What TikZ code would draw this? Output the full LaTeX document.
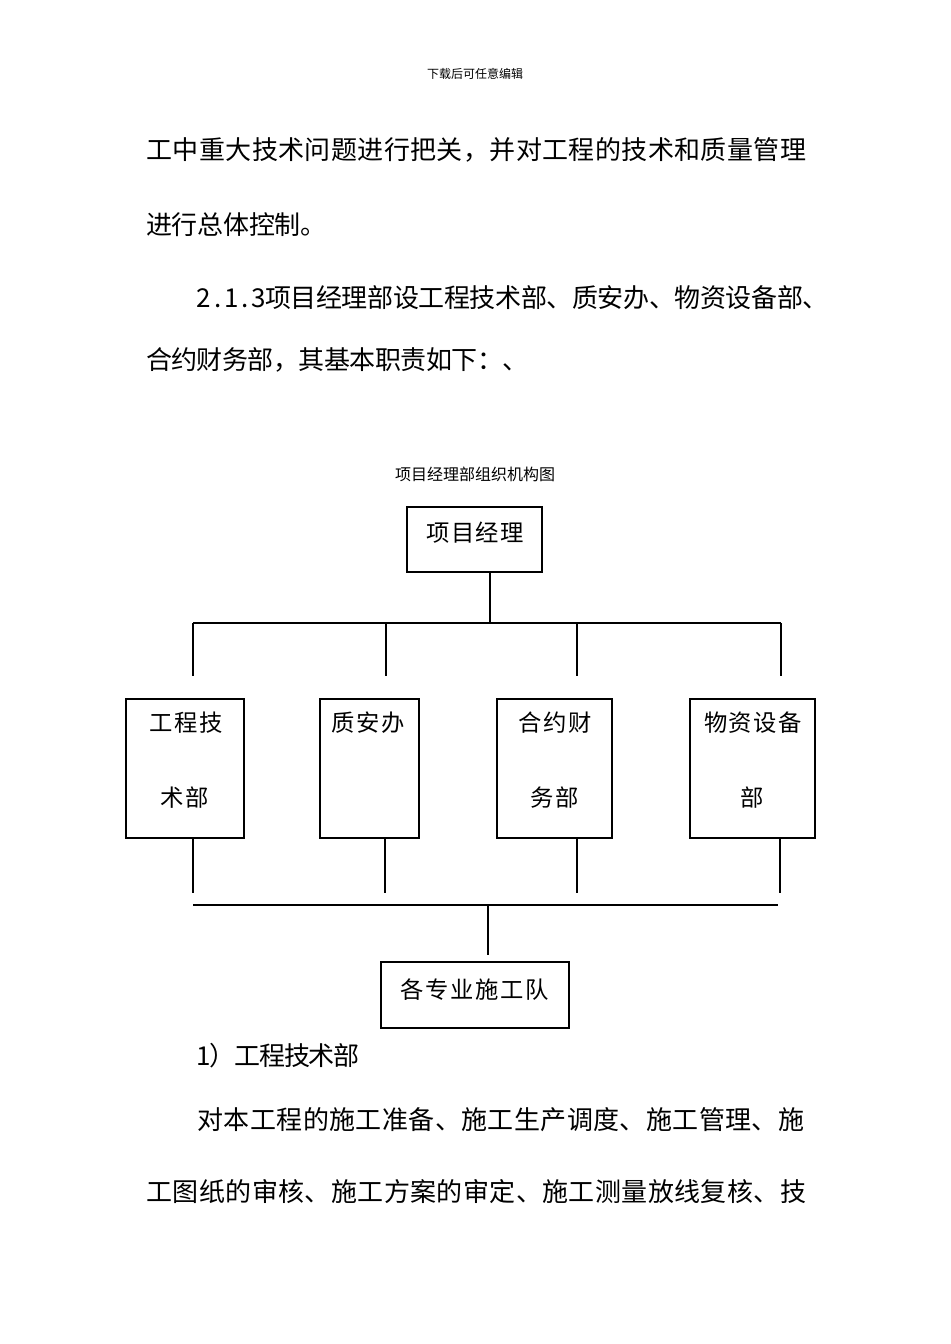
\documentclass[tikz,border=0pt]{standalone}
\usepackage{fontspec}
\newfontfamily\cjk{Noto Sans CJK SC}
\makeatletter
\newcommand\spreadtxt[2]{\@tfor\mychar:=#2\do{\makebox[#1][c]{\mychar}}}
\makeatother
\newcommand\bodyfont{\cjk\fontsize{19.5pt}{19.5pt}\selectfont}
\newcommand\chartfont{\cjk\fontsize{17.5pt}{17.5pt}\selectfont}
\begin{document}
\begin{tikzpicture}[x=0.75pt,y=-0.75pt,
  bodytxt/.style={anchor=west, inner sep=0pt, font=\bodyfont},
  chartlbl/.style={inner sep=0pt, font=\chartfont},
  chartbox/.style={draw=black, line width=0.8pt, inner sep=0pt, minimum height=104.25pt},
  conn/.style={draw=black, line width=0.8pt}]
\useasboundingbox (0,0) rectangle (950,1344);
\fill[white] (0,0) rectangle (950,1344);

% header and paragraph text
\node[inner sep=0pt, font=\cjk\fontsize{9pt}{9pt}\selectfont] (hdr) at (475,74) {下载后可任意编辑};
\node[bodytxt] (p1) at (146,150) {\spreadtxt{19.8pt}{工中重大技术问题进行把关，并对工程的技术和质量管理}};
\node[bodytxt] (p2) at (146,225) {\spreadtxt{19.3pt}{进行总体控制。}};
\node[bodytxt] (p3) at (197,298) {\spreadtxt{10.2pt}{2.1.3}\spreadtxt{19.2pt}{项目经理部设工程技术部、质安办、物资设备部、}};
\node[bodytxt] (p4) at (146,360) {\spreadtxt{19.1pt}{合约财务部，其基本职责如下：、}};
\node[inner sep=0pt, font=\cjk\fontsize{12pt}{12pt}\selectfont] (cap) at (475,474) {项目经理部组织机构图};

% chart boxes
\node[chartbox, minimum width=101.25pt, minimum height=48.75pt] (top) at (474.5,539.5) {};
\node[chartlbl] (topt) at (475,533) {\spreadtxt{18.4pt}{项目经理}};

\node[chartbox, minimum width=88.5pt] (b1) at (185,768.5) {};
\node[chartlbl] (b1a) at (186,723) {\spreadtxt{18.6pt}{工程技}};
\node[chartlbl] (b1b) at (185,798) {\spreadtxt{18.6pt}{术部}};

\node[chartbox, minimum width=74.25pt] (b2) at (369.5,768.5) {};
\node[chartlbl] (b2a) at (368,723) {\spreadtxt{18.6pt}{质安办}};

\node[chartbox, minimum width=86.25pt] (b3) at (554.5,768.5) {};
\node[chartlbl] (b3a) at (555,723) {\spreadtxt{18.6pt}{合约财}};
\node[chartlbl] (b3b) at (555,798) {\spreadtxt{18.6pt}{务部}};

\node[chartbox, minimum width=93.75pt] (b4) at (752.5,768.5) {};
\node[chartlbl] (b4a) at (753,723) {\spreadtxt{18.6pt}{物资设备}};
\node[chartlbl] (b4b) at (752,798) {\spreadtxt{18.6pt}{部}};

\node[chartbox, minimum width=141pt, minimum height=49.5pt] (bot) at (475,995) {};
\node[chartlbl] (bott) at (475,990) {\spreadtxt{18.75pt}{各专业施工队}};

% upper connectors
\coordinate (tj) at (490,623);
\coordinate (hl) at (193,623);
\coordinate (hr) at (781,623);
\coordinate (u1) at (193,676);
\coordinate (u2) at (386,676);
\coordinate (u3) at (577,676);
\coordinate (u4) at (781,676);
\draw[conn] (top.south -| tj) -- (tj);
\draw[conn] (hl) -- (hr);
\draw[conn] (u1 |- hl) -- (u1);
\draw[conn] (u2 |- hl) -- (u2);
\draw[conn] (u3 |- hl) -- (u3);
\draw[conn] (u4 |- hl) -- (u4);

% lower connectors
\coordinate (l1) at (193,893);
\coordinate (l2) at (385,893);
\coordinate (l3) at (577,893);
\coordinate (l4) at (780,893);
\draw[conn] (b1.south -| l1) -- (l1);
\draw[conn] (b2.south -| l2) -- (l2);
\draw[conn] (b3.south -| l3) -- (l3);
\draw[conn] (b4.south -| l4) -- (l4);
\coordinate (ml) at (193,905);
\coordinate (mr) at (778,905);
\coordinate (mj) at (488,905);
\coordinate (mb) at (488,955);
\draw[conn] (ml) -- (mr);
\draw[conn] (mj) -- (mb);

% text after chart
\node[bodytxt] (q1) at (197,1056) {\spreadtxt{9.75pt}{1}\spreadtxt{18.6pt}{）工程技术部}};
\node[bodytxt] (q2) at (197,1120) {\spreadtxt{19.8pt}{对本工程的施工准备、施工生产调度、施工管理、施}};
\node[bodytxt] (q3) at (146,1192) {\spreadtxt{19.8pt}{工图纸的审核、施工方案的审定、施工测量放线复核、技}};
\end{tikzpicture}
\end{document}
